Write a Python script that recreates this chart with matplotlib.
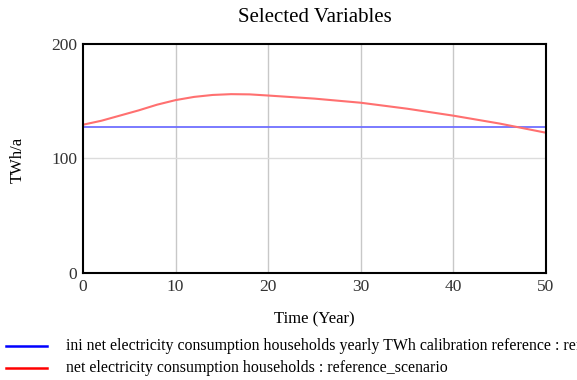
import matplotlib
matplotlib.use("Agg")
import matplotlib.pyplot as plt
from matplotlib.lines import Line2D

# data
years = [0, 2, 4, 6, 8, 10, 12, 14, 16, 18, 20, 25, 30, 35, 40, 45, 50]
net_cons = [129.5, 133.0, 137.5, 142.0, 147.0, 151.0, 153.8, 155.5, 156.2, 156.0,
            155.0, 152.3, 148.7, 143.5, 137.4, 130.5, 122.5]
ini_cons = [127.5] * len(years)

labels = ["ini net electricity consumption households yearly TWh calibration reference : reference_scenario",
          "net electricity consumption households : reference_scenario"]

plt.rcParams['font.family'] = ['Liberation Serif', 'DejaVu Serif']

fig = plt.figure(figsize=(5.77, 3.80), dpi=100)
ax = fig.add_axes([0.1438, 0.2816, 0.8025, 0.6026])

ax.plot(years, ini_cons, color="#7070ff", lw=1.3)
ax.plot(years, net_cons, color="#ff7070", lw=1.5)

ax.set_xlim(0, 50)
ax.set_ylim(0, 200)
ax.set_xticks([0, 10, 20, 30, 40, 50])
ax.set_yticks([0, 100, 200])
ax.tick_params(length=0, labelsize=12.5, colors="#333333")
ax.tick_params(axis="x", pad=4)
ax.tick_params(axis="y", pad=4)
for x in [10, 20, 30, 40]:
    ax.axvline(x, color="#c8c8c8", lw=1, zorder=0)
ax.axhline(100, color="#dcdcdc", lw=1, zorder=0)
for s in ax.spines.values():
    s.set_linewidth(1.5)
    s.set_color("black")

fig.text(0.5 * (83 + 546) / 577, 1 - 18 / 380, "Selected Variables",
         fontsize=15, ha="center", va="center")
fig.text((83 + 546) / 2 / 577, 1 - 319 / 380, "Time (Year)", fontsize=12,
         ha="center", va="center")
fig.text(18 / 577, 1 - 160 / 380, "TWh/a", rotation=90, fontsize=12,
         ha="center", va="center")

# legend drawn by hand at the bottom (first entry runs off the right edge, as in the original)
for i, (lab, col) in enumerate(zip(labels, ["blue", "red"])):
    yy = 1 - (346 + 22 * i) / 380
    fig.add_artist(Line2D([6 / 577, 47 / 577], [yy, yy], color=col, lw=1.8,
                          transform=fig.transFigure))
    fig.text(66 / 577, yy, lab, fontsize=11.4, va="center", ha="left")

fig.savefig("out.png", dpi=100)
